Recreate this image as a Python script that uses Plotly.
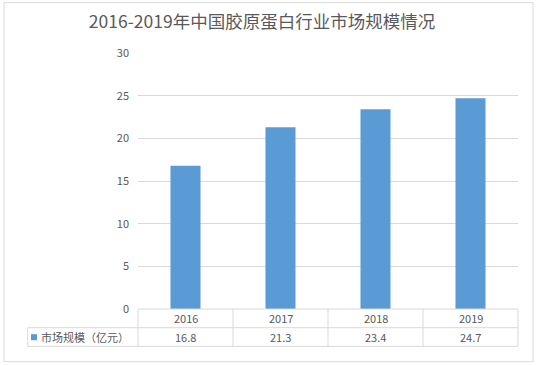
import plotly.graph_objects as go

years = ["2016", "2017", "2018", "2019"]
values = [16.8, 21.3, 23.4, 24.7]
series_name = "市场规模（亿元）"
title = "2016-2019年中国胶原蛋白行业市场规模情况"
y_ticks = [0, 5, 10, 15, 20, 25, 30]

W, H = 537, 365
L, R = 138, 518
T, B = 53.3, 309.3
FONT = "Noto Sans CJK SC"
TXT = "#595959"
LINE = "#d9d9d9"
BAR = "#5b9bd5"

def px(x):
    return (x - L) / (R - L)

def py(y):
    return (B - y) / (B - T)

fig = go.Figure()
fig.add_trace(go.Bar(x=years, y=values, marker_color=BAR, marker_line_width=0,
                     name=series_name, showlegend=False))

shapes = []
# outer border
shapes.append(dict(type="rect", xref="paper", yref="paper", x0=px(4), x1=px(533),
                   y0=py(362), y1=py(3), line=dict(color=LINE, width=1)))
row1, row2 = 328, 346.7
# table horizontal lines
shapes.append(dict(type="line", xref="paper", yref="paper", x0=0, x1=1, y0=0, y1=0,
                   line=dict(color=LINE, width=1)))
for yy in (row1, row2):
    shapes.append(dict(type="line", xref="paper", yref="paper", x0=px(27.7), x1=1,
                       y0=py(yy), y1=py(yy), line=dict(color=LINE, width=1)))
# table vertical lines
shapes.append(dict(type="line", xref="paper", yref="paper", x0=px(27.7), x1=px(27.7),
                   y0=py(row1), y1=py(row2), line=dict(color=LINE, width=1)))
n = len(years)
for i in range(n + 1):
    shapes.append(dict(type="line", xref="paper", yref="paper", x0=i / n, x1=i / n,
                       y0=0, y1=py(row2), line=dict(color=LINE, width=1)))
# legend key
shapes.append(dict(type="rect", xref="paper", yref="paper", x0=px(31), x1=px(37),
                   y0=py(340.5), y1=py(334.5), fillcolor=BAR, line=dict(width=0)))

annotations = []
annotations.append(dict(text=series_name, xref="paper", yref="paper", x=px(39), y=py(337.5),
                        xanchor="left", yanchor="middle", showarrow=False,
                        font=dict(family=FONT, size=11, color=TXT)))
for i, (yr, v) in enumerate(zip(years, values)):
    annotations.append(dict(text=yr, xref="x", yref="paper", x=i, y=py(318.7),
                            xanchor="center", yanchor="middle", showarrow=False,
                            font=dict(family=FONT, size=11, color=TXT)))
    annotations.append(dict(text=f"{v:.1f}", xref="x", yref="paper", x=i, y=py(337.5),
                            xanchor="center", yanchor="middle", showarrow=False,
                            font=dict(family=FONT, size=11, color=TXT)))

fig.update_layout(
    width=W, height=H,
    margin=dict(l=L, r=W - R, t=T, b=H - B, pad=0),
    paper_bgcolor="white", plot_bgcolor="white",
    bargap=0.684,
    title=dict(text=title, x=262 / W, xref="container", xanchor="center", y=1 - 22 / H,
               yref="container", yanchor="middle",
               font=dict(family=FONT, size=17.5, color=TXT)),
    xaxis=dict(type="category", range=[-0.5, n - 0.5], showticklabels=False, showgrid=False,
               zeroline=False, showline=False, ticks="", fixedrange=True),
    yaxis=dict(range=[0, 30], tickvals=y_ticks, showgrid=True, gridcolor=LINE, gridwidth=1,
               zeroline=False, showline=False, ticks="", ticklabelstandoff=8,
               tickfont=dict(family=FONT, size=11, color=TXT)),
    shapes=shapes, annotations=annotations,
)

fig.write_html("out.html")
